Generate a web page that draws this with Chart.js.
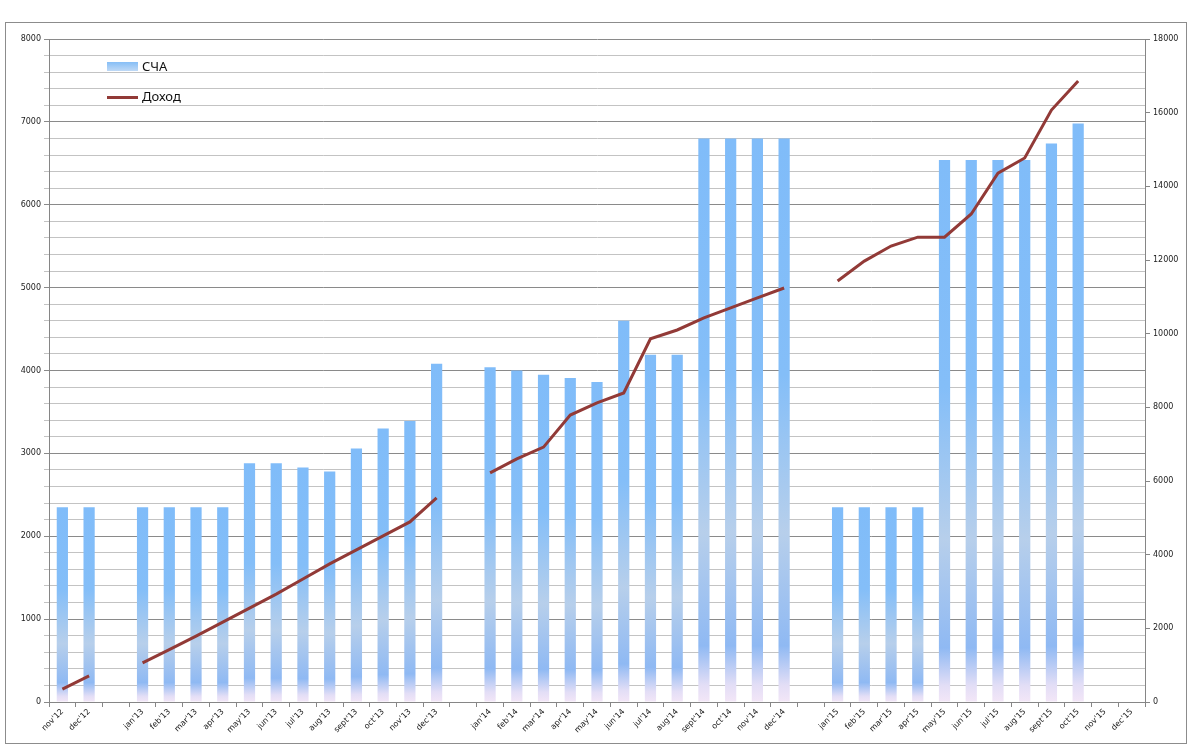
<!DOCTYPE html>
<html>
<head>
<meta charset="utf-8">
<script src="https://cdn.jsdelivr.net/npm/chart.js@4/dist/chart.umd.min.js"></script>
<style>
  html, body { margin: 0; padding: 0; background: #ffffff; }
  #wrap { position: absolute; left: 0; top: 0; width: 1190px; height: 749px; }
</style>
</head>
<body>
<div id="wrap"><canvas id="c" width="1190" height="749"></canvas></div>
<script>
// ---- Data ----
const categories = [
  "nov'12","dec'12","",
  "jan'13","feb'13","mar'13","apr'13","may'13","jun'13","jul'13","aug'13","sept'13","oct'13","nov'13","dec'13","",
  "jan'14","feb'14","mar'14","apr'14","may'14","jun'14","jul'14","aug'14","sept'14","oct'14","nov'14","dec'14","",
  "jan'15","feb'15","mar'15","apr'15","may'15","jun'15","jul'15","aug'15","sept'15","oct'15","nov'15","dec'15"
];
const schaValues = [
  2350, 2350, null,
  2350, 2350, 2350, 2350, 2880, 2880, 2830, 2780, 3060, 3300, 3390, 4080, null,
  4040, 4000, 3950, 3910, 3860, 4600, 4190, 4190, 6800, 6800, 6800, 6800, null,
  2350, 2350, 2350, 2350, 6540, 6540, 6540, 6540, 6740, 6980, null, null
];
const dokhodValues = [
  350, 710, null,
  1060, 1420, 1790, 2170, 2550, 2930, 3340, 3750, 4130, 4510, 4890, 5540, null,
  6220, 6600, 6920, 7790, 8120, 8390, 9860, 10100, 10430, 10700, 10970, 11240, null,
  11430, 11970, 12380, 12620, 12620, 13250, 14360, 14770, 16070, 16860, null, null
];
const leftTicks = { min: 0, max: 8000, step: 200, labelStep: 1000 };
const rightTicks = { min: 0, max: 18000, step: 2000 };
const seriesNames = ["СЧА", "Доход"];

// ---- Styles ----
const lineColor = '#923a37';
const axisColor = '#868686';
const tickFont = { family: 'DejaVu Sans', size: 8 };

function barGradient(g, top, bottom) {
  const grd = g.createLinearGradient(0, top, 0, bottom);
  grd.addColorStop(0, '#80bcf9');
  grd.addColorStop(0.42, '#84bef8');
  grd.addColorStop(0.70, '#b7cfeb');
  grd.addColorStop(0.90, '#8fb9f3');
  grd.addColorStop(0.97, '#e3def6');
  grd.addColorStop(1, '#f3e6f7');
  return grd;
}

const outerFrame = {
  id: 'outerFrame',
  beforeDraw(chart) {
    const g = chart.ctx;
    g.save();
    g.fillStyle = '#ffffff';
    g.fillRect(0, 0, chart.width, chart.height);
    g.strokeStyle = '#8c8c8c';
    g.lineWidth = 1;
    g.strokeRect(5.5, 22.5, 1181, 721);
    g.restore();
  }
};

const innerLegend = {
  id: 'innerLegend',
  afterDraw(chart) {
    const g = chart.ctx;
    g.save();
    const gr = g.createLinearGradient(0, 62, 0, 72);
    gr.addColorStop(0, '#86bef6');
    gr.addColorStop(1, '#c5dcf6');
    g.fillStyle = gr;
    g.fillRect(107, 62, 31, 9);
    g.strokeStyle = lineColor;
    g.lineWidth = 3;
    g.beginPath();
    g.moveTo(107, 97.5);
    g.lineTo(138, 97.5);
    g.stroke();
    g.fillStyle = '#111111';
    g.font = '13px "Noto Sans"';
    g.textBaseline = 'middle';
    g.fillText(seriesNames[0], 142, 67);
    g.fillText(seriesNames[1], 142, 97);
    g.restore();
  }
};

new Chart(document.getElementById('c'), {
  data: {
    labels: categories,
    datasets: [
      {
        type: 'line',
        label: seriesNames[1],
        data: dokhodValues,
        yAxisID: 'y1',
        borderColor: lineColor,
        backgroundColor: lineColor,
        borderWidth: 3,
        pointRadius: 0,
        tension: 0,
        spanGaps: false,
        order: 0
      },
      {
        type: 'bar',
        label: seriesNames[0],
        data: schaValues,
        yAxisID: 'y',
        barPercentage: 0.42,
        categoryPercentage: 1.0,
        order: 1,
        backgroundColor(ctx) {
          const chart = ctx.chart;
          const ys = chart.scales.y;
          if (!ys || ctx.raw == null || !chart.chartArea) return '#84bef8';
          const top = ys.getPixelForValue(ctx.raw);
          const bottom = ys.getPixelForValue(0);
          if (!isFinite(top) || !isFinite(bottom) || bottom - top < 1) return '#84bef8';
          return barGradient(chart.ctx, top, bottom);
        }
      }
    ]
  },
  options: {
    responsive: false,
    animation: false,
    devicePixelRatio: 1,
    layout: { padding: { top: 39, left: 0, right: 0, bottom: 0 } },
    plugins: { legend: { display: false }, tooltip: { enabled: false } },
    scales: {
      x: {
        offset: true,
        grid: { offset: true, drawOnChartArea: false, drawTicks: true, tickLength: 5, color: axisColor },
        border: { color: axisColor },
        ticks: { autoSkip: false, maxRotation: 45, minRotation: 45, font: tickFont, color: '#222', padding: 0 },
        afterFit(s) { s.height = 47; }
      },
      y: {
        position: 'left',
        min: leftTicks.min, max: leftTicks.max,
        ticks: {
          stepSize: leftTicks.step,
          autoSkip: false,
          font: tickFont, color: '#222', padding: 3,
          callback(v) { return v % leftTicks.labelStep === 0 ? String(v) : ''; }
        },
        grid: {
          tickLength: 5,
          color(ctx) { return (ctx.tick && ctx.tick.value % leftTicks.labelStep === 0) ? '#8a8a8a' : '#c3c3c3'; }
        },
        border: { color: axisColor },
        afterFit(s) { s.width = 49; }
      },
      y1: {
        position: 'right',
        min: rightTicks.min, max: rightTicks.max,
        ticks: { stepSize: rightTicks.step, font: tickFont, color: '#222', padding: 3,
          callback(v) { return String(v); } },
        grid: { drawOnChartArea: false, tickLength: 5, color: axisColor },
        border: { color: axisColor },
        afterFit(s) { s.width = 45; }
      }
    }
  },
  plugins: [outerFrame, innerLegend]
});
</script>
</body>
</html>
